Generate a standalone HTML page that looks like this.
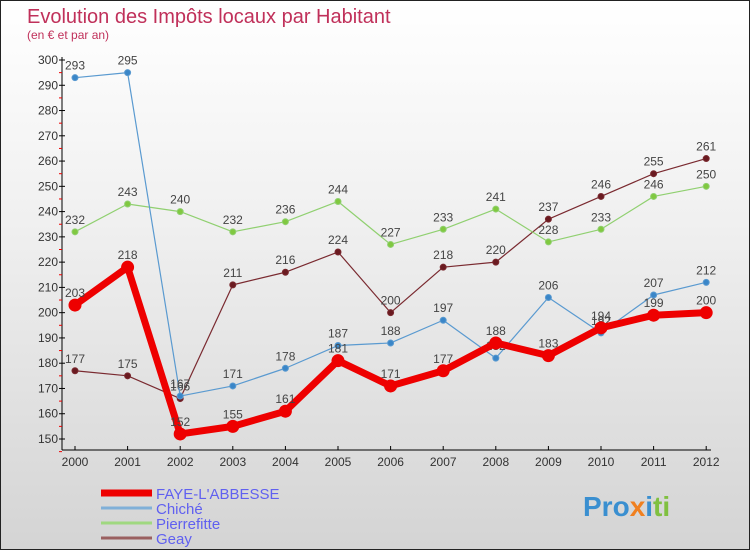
<!DOCTYPE html>
<html><head><meta charset="utf-8"><style>
body{margin:0;width:750px;height:550px;overflow:hidden}
#c{position:absolute;left:0;top:0;width:748px;height:548px;border:1px solid #222;background:linear-gradient(#ffffff 0%,#f0f0f0 40%,#d4d4d4 100%)}
text{font-family:"Liberation Sans",sans-serif}
</style></head><body>
<div id="c">
<svg id="s" width="748" height="548" xmlns="http://www.w3.org/2000/svg">
<text x="26" y="22" font-size="20" fill="#c0305a">Evolution des Impôts locaux par Habitant</text>
<text x="26" y="38" font-size="12" fill="#c0305a">(en € et par an)</text>
<g id="ax"></g><g id="series"></g><g id="legend"></g>
<text x="582" y="515" font-size="28" font-weight="bold" fill="#3a8fd0">Pro<tspan fill="#f08020">x</tspan><tspan fill="#3a8fd0">i</tspan><tspan fill="#80c040">ti</tspan></text>
</svg></div>
<script>
const years=["2000","2001","2002","2003","2004","2005","2006","2007","2008","2009","2010","2011","2012"];
const yTicks=[150,160,170,180,190,200,210,220,230,240,250,260,270,280,290,300];
const faye=[203,218,152,155,161,181,171,177,188,183,194,199,200];
const chiche=[293,295,167,171,178,187,188,197,182,206,192,207,212];
const pierrefitte=[232,243,240,232,236,244,227,233,241,228,233,246,250];
const geay=[177,175,166,211,216,224,200,218,220,237,246,255,261];
const NS="http://www.w3.org/2000/svg";
const xs=i=>74+i*52.6;
const ys=v=>59+(300-v)*(438-59)/150;
function mk(t,a,p){const e=document.createElementNS(NS,t);for(const k in a)e.setAttribute(k,a[k]);(p||document.getElementById('ax')).appendChild(e);return e;}
let e=mk('line',{x1:61,y1:56,x2:61,y2:449,stroke:'#000'});

e=mk('line',{x1:61,y1:449,x2:710,y2:449,stroke:'#000'});

yTicks.forEach(v=>{const y=ys(v);mk('line',{x1:58,y1:y,x2:64,y2:y,stroke:'#000'});
 if(v<300)mk('line',{x1:58,y1:ys(v+5),x2:61,y2:ys(v+5),stroke:'#e00'});
 const t=mk('text',{x:57,y:y+4,'font-size':12,fill:'#333','text-anchor':'end'});t.textContent=v;
 });
mk('line',{x1:58,y1:ys(145),x2:61,y2:ys(145),stroke:'#e00'});
years.forEach((yr,i)=>{const x=xs(i);mk('line',{x1:x,y1:445,x2:x,y2:449,stroke:'#000'});
 const t=mk('text',{x:x,y:465,'font-size':12,fill:'#333','text-anchor':'middle'});t.textContent=yr;
 });
const sg=document.getElementById('series');
function series(name,data,col,dot,w,r){
 const g=mk('g',{},sg);
 const l=mk('polyline',{points:data.map((v,i)=>xs(i)+','+ys(v)).join(' '),fill:'none',stroke:col,'stroke-width':w,'stroke-linejoin':'round'},g);
 
 data.forEach((v,i)=>{const c=mk('circle',{cx:xs(i),cy:ys(v),r:r,fill:dot,stroke:col,'stroke-width':1},g);
  
  const t=mk('text',{x:xs(i),y:ys(v)-8,'font-size':12,fill:'#444','text-anchor':'middle'},g);t.textContent=v;
  });
}
series('geay',geay,'#7a2a30','#6a1a20',1.2,3);
series('pierrefitte',pierrefitte,'#90d070','#80c840',1.2,3);
series('chiche',chiche,'#5a9ad0','#3a86c8',1.2,3);
series('faye',faye,'#ee0000','#ee0000',7,6);
const lg=document.getElementById('legend');
const items=[['FAYE-L\'ABBESSE','#ee0000',7],['Chiché','#80b0d8',3],['Pierrefitte','#a0d880',3],['Geay','#9a6060',3]];
items.forEach((it,i)=>{const y=492+i*15;
 const l=mk('line',{x1:100,y1:y,x2:151,y2:y,stroke:it[1],'stroke-width':it[2]},lg);
 
 const t=mk('text',{x:155,y:y+6,'font-size':15,fill:'#6060f0'},lg);t.textContent=it[0];
 });
</script>
</body></html>
